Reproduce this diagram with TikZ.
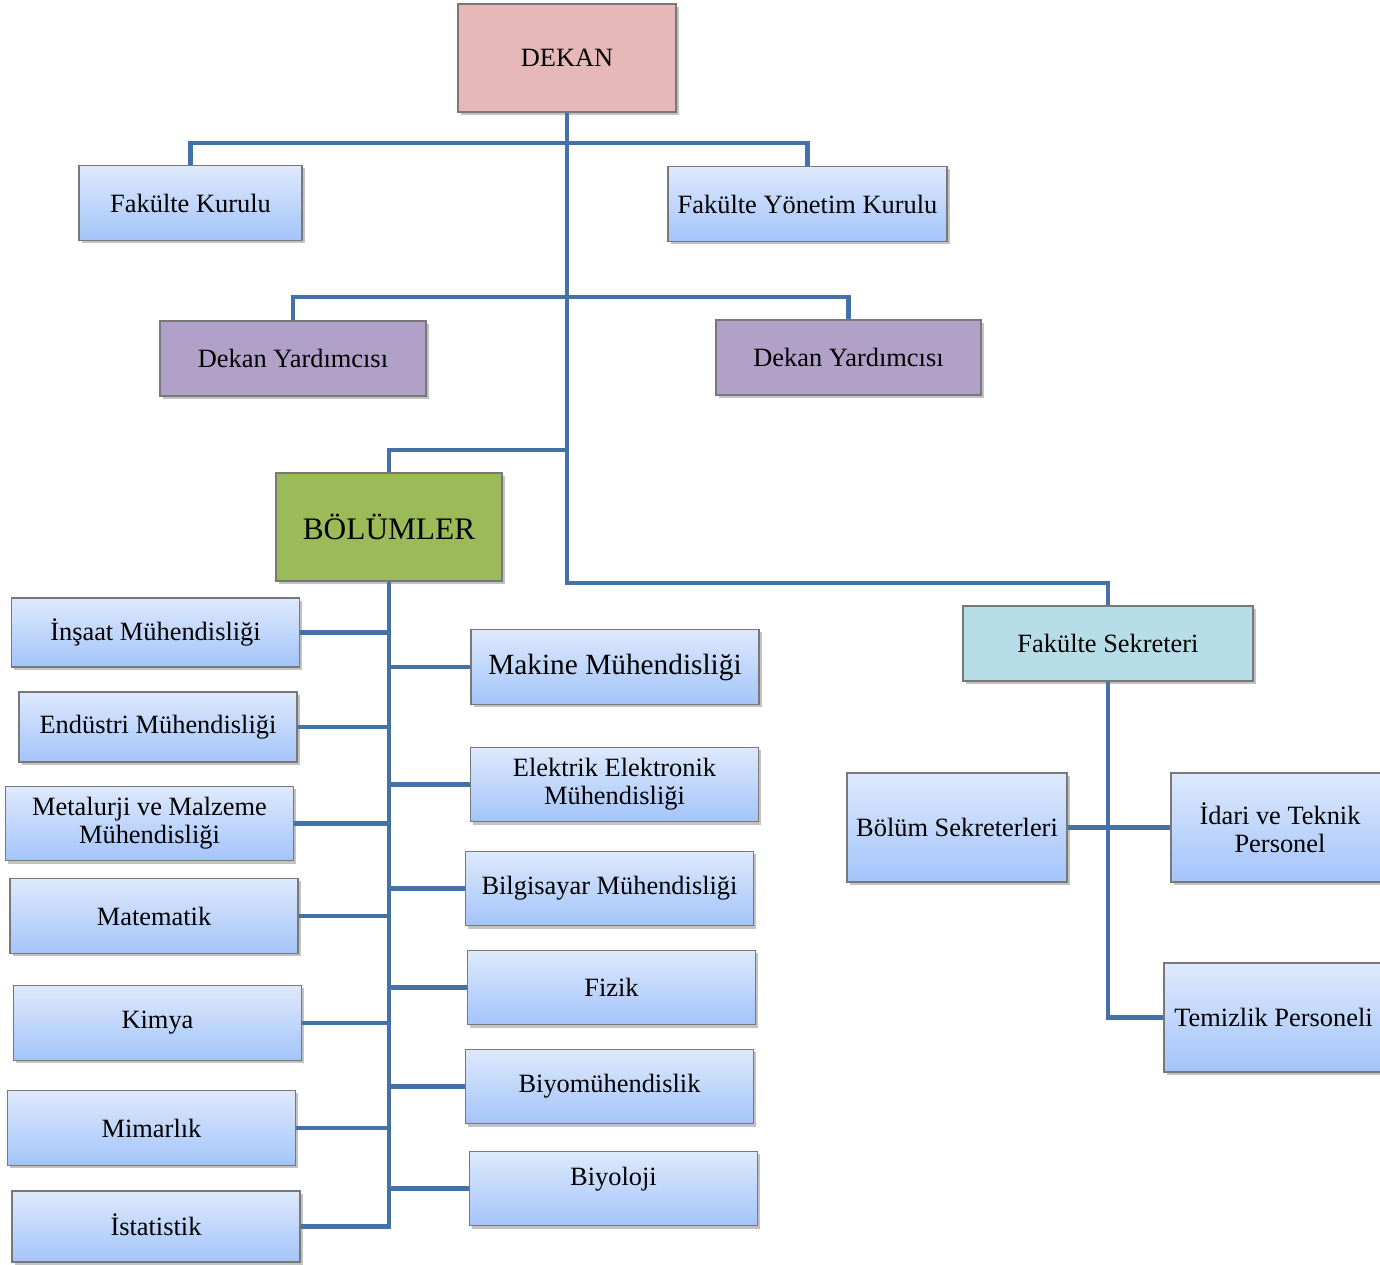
\documentclass[tikz,border=0pt]{standalone}
\usepackage{xcolor}
\usepackage{tikz}
\usepackage{fontspec}
\setmainfont{Liberation Serif}
\usetikzlibrary{positioning, arrows.meta, shapes, shadows}
\definecolor{dekanpink}{RGB}{230,184,183}
\definecolor{yardpurple}{RGB}{177,160,199}
\definecolor{bolumgreen}{RGB}{155,187,89}
\definecolor{sekteal}{RGB}{183,222,232}
\definecolor{boxtop}{RGB}{222,233,252}
\definecolor{boxbottom}{RGB}{163,196,250}
\definecolor{linkblue}{RGB}{68,114,168}
\definecolor{boxedge}{RGB}{120,120,120}

\tikzset{
    unit/.style={draw=boxedge, line width=0.8pt, rectangle, inner sep=2pt,
        align=center, text=black, font=\fontsize{19.8}{21}\selectfont,
        drop shadow={shadow xshift=2pt, shadow yshift=-2pt, opacity=0.4, fill=black!60}},
    dept/.style={unit, top color=boxtop, bottom color=boxbottom,
        minimum width=216pt, minimum height=56pt},
    link/.style={draw=linkblue, line width=3.6pt}
}

\begin{document}
\begin{tikzpicture}[x=0.75pt, y=-0.75pt]
    \useasboundingbox (0,0) rectangle (1380,1264);

    % dekanlik
    \node[unit, fill=dekanpink, minimum width=163.5pt, minimum height=81pt] (dekan) at (567,58) {DEKAN};
    \node[dept, minimum width=167.25pt] (fkurul) at (190.5,203) {Fakülte Kurulu};
    \node[dept, minimum width=209.25pt] (fyonetim) at (807.5,204) {Fakülte Yönetim Kurulu};
    \node[unit, fill=yardpurple, minimum width=199.5pt, minimum height=56.25pt] (yard1) at (293,358.5) {Dekan Yardımcısı};
    \node[unit, fill=yardpurple, minimum width=198.75pt, minimum height=56.25pt] (yard2) at (848.5,357.5) {Dekan Yardımcısı};
    \node[unit, fill=bolumgreen, minimum width=169.5pt, minimum height=81pt,
          font=\fontsize{23.5}{25}\selectfont] (bolum) at (389,527) {BÖLÜMLER};

    % bolumler, sol
    \node[dept, minimum height=51.75pt] (ins) at (155.5,632.5) {İnşaat Mühendisliği};
    \node[dept, minimum width=208.5pt, minimum height=52.5pt] (endu) at (158,727) {Endüstri Mühendisliği};
    \node[dept] (met) at (149.5,823.5) {Metalurji ve Malzeme\\Mühendisliği};
    \node[dept] (mat) at (154,916) {Matematik};
    \node[dept] (kim) at (157.5,1023) {Kimya};
    \node[dept] (mim) at (151.5,1128) {Mimarlık};
    \node[dept, minimum height=53.25pt] (ist) at (156,1226.5) {\raisebox{3pt}{İstatistik}};

    % bolumler, sag
    \node[dept, font=\fontsize{22}{24}\selectfont] (mak) at (615,667) {Makine Mühendisliği};
    \node[dept] (elk) at (614.5,784.5) {Elektrik Elektronik\\Mühendisliği};
    \node[dept] (bil) at (609.5,888.5) {Bilgisayar Mühendisliği};
    \node[dept] (fiz) at (611.5,987.5) {Fizik};
    \node[dept] (biyom) at (609.5,1086.5) {Biyomühendislik};
    \node[dept] (biyo) at (613.5,1188.5) {\raisebox{18pt}{Biyoloji}};

    % sekreterlik
    \node[unit, fill=sekteal, minimum width=217.5pt, minimum height=56.25pt] (fsek) at (1108,643.5) {Fakülte Sekreteri};
    \node[dept, minimum width=165pt, minimum height=81.75pt] (bsek) at (957,827.5) {Bölüm Sekreterleri};
    \node[dept, minimum width=163.5pt, minimum height=81.75pt] (idari) at (1280,827.5) {İdari ve Teknik\\Personel};
    \node[dept, minimum width=164.25pt, minimum height=81.75pt] (temiz) at (1273.5,1017.5) {Temizlik Personeli};

    % baglanti noktalari
    \coordinate (busA) at (567,143);
    \coordinate (busB) at (567,297);
    \coordinate (busC) at (567,450);
    \coordinate (busD) at (567,583);

    \draw[link] (dekan.south) -- (busD) -| (fsek.north);
    \draw[link] (fkurul.north) |- (busA) -| (fyonetim.north);
    \draw[link] (yard1.north) |- (busB) -| (yard2.north);
    \draw[link] (bolum.north) |- (busC);

    \draw[link] (bolum.south) |- (ist.east);
    \foreach \d in {ins, endu, met, mat, kim, mim}
        \draw[link] (\d.east) -- (\d.east -| bolum.south);
    \foreach \d in {mak, elk, bil, fiz, biyom, biyo}
        \draw[link] (\d.west) -- (\d.west -| bolum.south);

    \draw[link] (fsek.south) |- (temiz.west);
    \draw[link] (bsek.east) -- (idari.west);
\end{tikzpicture}
\end{document}
